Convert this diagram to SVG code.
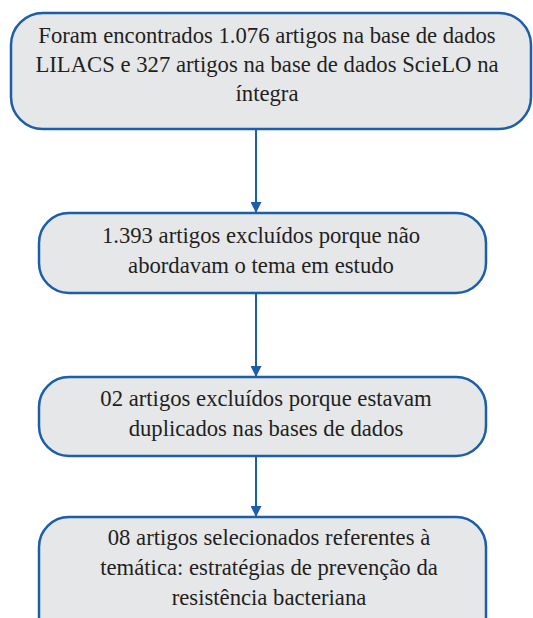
<svg xmlns="http://www.w3.org/2000/svg" width="533" height="618" viewBox="0 0 533 618">
<style>
.box{fill:#e6e7e9;stroke:#1b5ea9;stroke-width:2.5}
.c{stroke:#1b5ea9;stroke-width:2;fill:none}
</style>
<defs>
<marker id="ah" markerWidth="11" markerHeight="11" refX="11" refY="5.5" orient="auto" markerUnits="userSpaceOnUse">
<path d="M0,0 L11,5.5 L0,11 Z" fill="#1b5ea9"/>
</marker>
</defs>
<rect width="533" height="618" fill="#ffffff"/>
<g id="connectors">
<line class="c" x1="256" y1="129" x2="256" y2="213" marker-end="url(#ah)"/>
<line class="c" x1="256" y1="293" x2="256" y2="377" marker-end="url(#ah)"/>
<line class="c" x1="256" y1="456" x2="256" y2="517" marker-end="url(#ah)"/>
</g>
<g font-family="Liberation Serif, Times New Roman, serif" font-size="22.7" fill="#231f20" text-anchor="middle">
<g id="n1">
<rect class="box" x="11" y="13" width="520" height="116" rx="32" ry="32"/>
<text x="267" y="43">Foram encontrados 1.076 artigos na base de dados</text>
<text x="267" y="72">LILACS e 327 artigos na base de dados ScieLO na</text>
<text x="267" y="101">íntegra</text>
</g>
<g id="n2">
<rect class="box" x="39" y="213" width="447" height="80" rx="30" ry="30"/>
<text x="261" y="243">1.393 artigos excluídos porque não</text>
<text x="261" y="273">abordavam o tema em estudo</text>
</g>
<g id="n3">
<rect class="box" x="39" y="377" width="447" height="79" rx="30" ry="30"/>
<text x="266" y="406">02 artigos excluídos porque estavam</text>
<text x="266" y="436">duplicados nas bases de dados</text>
</g>
<g id="n4">
<rect class="box" x="39" y="517" width="447" height="130" rx="30" ry="30"/>
<text x="269" y="545">08 artigos selecionados referentes à</text>
<text x="269" y="575">temática: estratégias de prevenção da</text>
<text x="269" y="605">resistência bacteriana</text>
</g>
</g>
</svg>
